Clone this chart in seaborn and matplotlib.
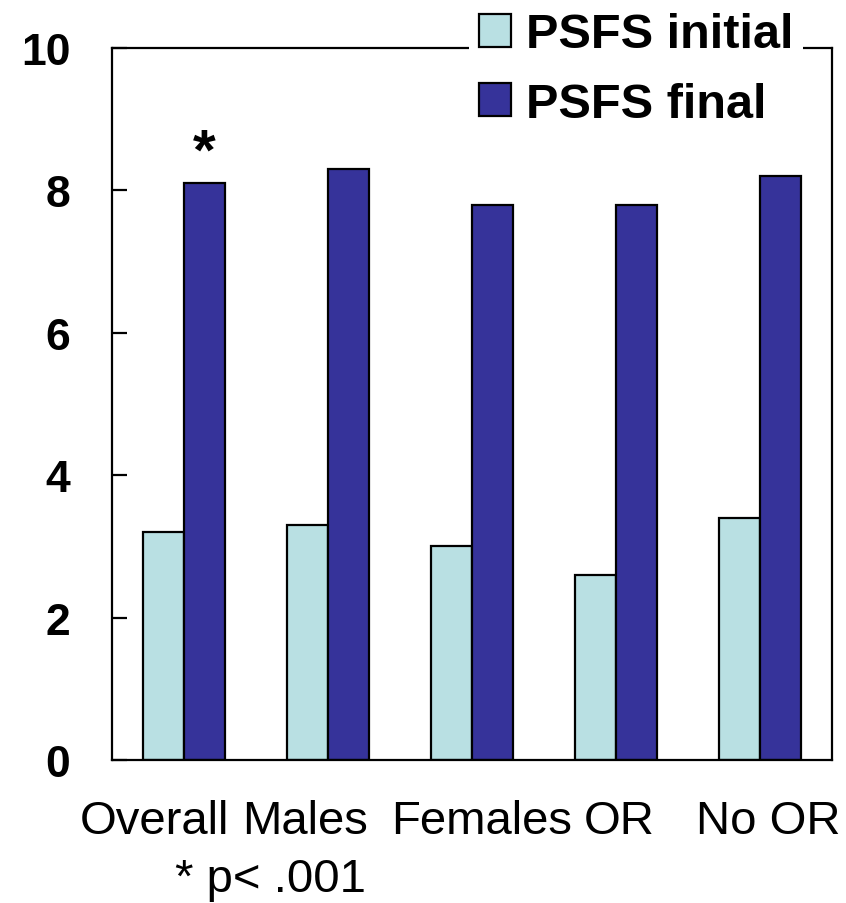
import pandas as pd
import numpy as np
import matplotlib
matplotlib.use('Agg')
import matplotlib.pyplot as plt
import matplotlib.transforms as mtransforms
import seaborn as sns

# PSFS scores, initial vs final, per group
groups = ['Overall', 'Males', 'Females', 'OR', 'No OR']
psfs_initial = [3.2, 3.3, 3.0, 2.6, 3.4]
psfs_final = [8.1, 8.3, 7.8, 7.8, 8.2]
series = ['PSFS initial', 'PSFS final']
colors = ['#B9E0E3', '#36339A']

df = pd.DataFrame({
    'group': groups * 2,
    'score': psfs_initial + psfs_final,
    'series': [series[0]] * len(groups) + [series[1]] * len(groups),
})

sns.set_style('white')
plt.rcParams['font.family'] = ['Liberation Sans', 'DejaVu Sans']
plt.rcParams['text.color'] = 'black'

fig = plt.figure(figsize=(8.46, 9.04), dpi=100)
ax = fig.add_axes([0.1324, 0.1582, 0.851, 0.7876])

sns.barplot(data=df, x='group', y='score', hue='series', order=groups,
            hue_order=series, palette=colors, width=0.57, gap=0,
            edgecolor='black', linewidth=1.6, saturation=1, ax=ax)

ax.set_ylim(0, 10)
ax.set_xlim(-0.5, len(groups) - 0.5)
ax.set_yticks([0, 2, 4, 6, 8, 10])
ax.set_xlabel('')
ax.set_ylabel('')
for s in ax.spines.values():
    s.set_linewidth(1.6)
    s.set_color('black')
ax.tick_params(axis='y', left=True, direction='in', length=11, width=1.6, pad=30,
               labelsize=32, colors='black')
ax.tick_params(axis='x', bottom=False, length=0, pad=28, labelsize=34, colors='black')
for lab in ax.get_yticklabels():
    lab.set_fontweight('bold')

# labels in the original sit like one line of text, nudge them a little
shifts = [-30, -23, 10, 3, 8]
for lab, dx in zip(ax.get_xticklabels(), shifts):
    lab.set_transform(lab.get_transform() +
                      mtransforms.ScaledTranslation(dx / 100, 0, fig.dpi_scale_trans))

# significance marker over Overall final bar
ax.text(0 + 0.57 / 4, psfs_final[0] + 0.2, '*', ha='center', va='baseline',
        fontsize=42, fontweight='bold')

ax.get_legend().remove()
handles = [plt.Rectangle((0, 0), 1, 1, facecolor=c, edgecolor='black', linewidth=1.6)
           for c in colors]
leg = fig.legend(handles, series, loc='center', bbox_to_anchor=(0.752, 0.922),
                 frameon=True, facecolor='white', edgecolor='none', fancybox=False,
                 framealpha=1, prop={'size': 35, 'weight': 'bold'},
                 handlelength=0.66, handleheight=0.66, handletextpad=0.3,
                 labelspacing=0.5, borderpad=0.2, borderaxespad=0)

fig.text(0.32, 0.026, '* p< .001', ha='center', va='center', fontsize=34)

fig.savefig('out.png', dpi=100)
